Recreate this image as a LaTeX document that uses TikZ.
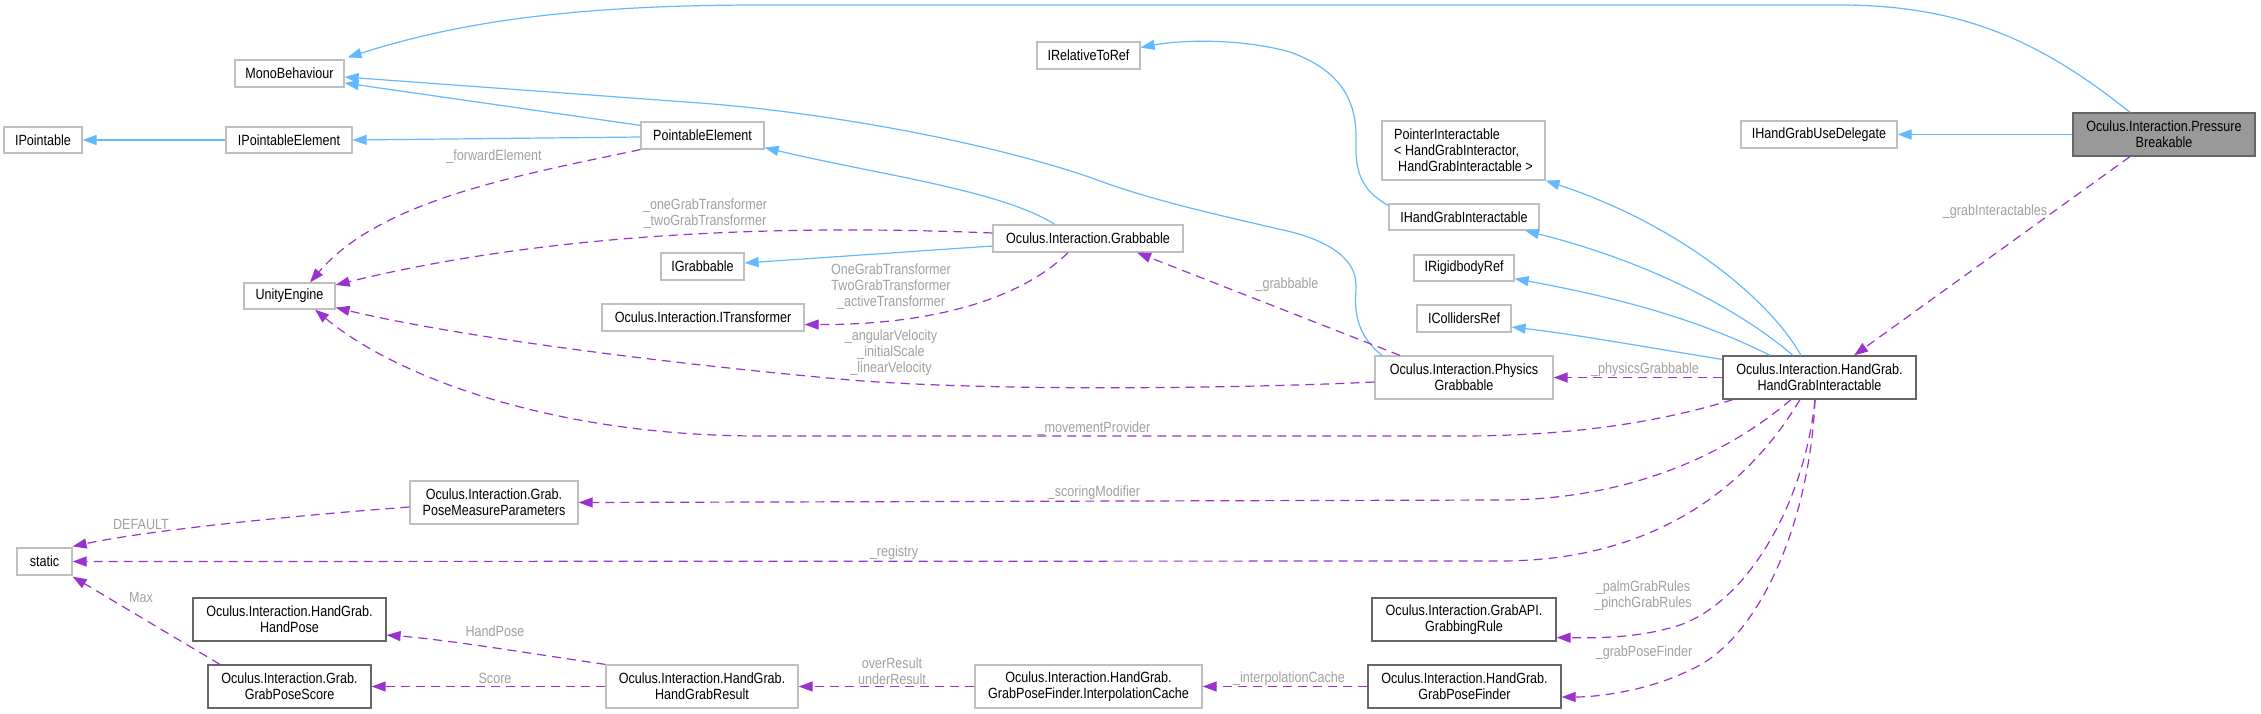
\documentclass[tikz,border=0pt]{standalone}
\usepackage{fontspec}
\setmainfont{Liberation Sans}[FakeStretch=0.85]
\usetikzlibrary{arrows.meta}
\definecolor{inhblue}{HTML}{63B8FF}
\definecolor{usepurple}{HTML}{9A32CD}
\definecolor{lblgray}{HTML}{A0A0A0}
\definecolor{lightborder}{HTML}{BFBFBF}
\definecolor{darkborder}{HTML}{666666}
\definecolor{mainfill}{HTML}{999999}
\newcommand\dxfont{\fontsize{14.8}{16}\selectfont}
\begin{document}
\begin{tikzpicture}[x=1pt,y=-1pt,
  box/.style={draw=lightborder, line width=1.2pt, fill=white, inner sep=0pt, font=\dxfont, text=black, align=center},
  docbox/.style={box, draw=darkborder},
  mainbox/.style={box, draw=darkborder, fill=mainfill},
  lbl/.style={inner sep=0pt, font=\dxfont, text=lblgray, align=center},
  inh/.style={draw=inhblue, line width=1.2pt, -{Triangle[length=14pt,width=10pt]}},
  use/.style={draw=usepurple, line width=1.2pt, dash pattern=on 9pt off 6pt, -{Triangle[length=14pt,width=10pt]}}
]
\useasboundingbox (0,0) rectangle (2261,713);

% nodes
\node[box, minimum width=109pt, minimum height=27pt] (mono) at (289.5,73.5) {MonoBehaviour};
\node[box, minimum width=78pt, minimum height=26pt] (ipt) at (43,140) {IPointable};
\node[box, minimum width=126pt, minimum height=26pt] (ipe) at (289,140) {IPointableElement};
\node[box, minimum width=123pt, minimum height=27pt] (pe) at (702.5,135.5) {PointableElement};
\node[box, minimum width=103pt, minimum height=27pt] (irr) at (1088.5,55.5) {IRelativeToRef};
\node[box, minimum width=91pt, minimum height=26pt] (unity) at (289.5,296) {UnityEngine};
\node[box, minimum width=83pt, minimum height=27pt] (igr) at (702.5,266.5) {IGrabbable};
\node[box, minimum width=202pt, minimum height=27pt] (itr) at (703,317.5) {Oculus.Interaction.ITransformer};
\node[box, minimum width=190pt, minimum height=27pt] (grab) at (1088,238.5) {Oculus.Interaction.Grabbable};
\node[box, minimum width=163pt, minimum height=59pt, align=left] (pint) at (1463.5,150.5) {PointerInteractable\\{<} HandGrabInteractor,\\\hspace*{4pt}HandGrabInteractable {>}};
\node[box, minimum width=150pt, minimum height=26pt] (ihgi) at (1464,217) {IHandGrabInteractable};
\node[box, minimum width=100pt, minimum height=26pt] (irb) at (1464,268) {IRigidbodyRef};
\node[box, minimum width=94pt, minimum height=27pt] (icol) at (1464,318.5) {ICollidersRef};
\node[box, minimum width=178pt, minimum height=43pt] (phys) at (1464,377.5) {Oculus.Interaction.Physics\\Grabbable};
\node[docbox, minimum width=193pt, minimum height=43pt] (hgi) at (1819.5,377.5) {Oculus.Interaction.HandGrab.\\HandGrabInteractable};
\node[box, minimum width=156pt, minimum height=27pt] (ihgud) at (1819,134.5) {IHandGrabUseDelegate};
\node[mainbox, minimum width=182pt, minimum height=43pt] (pb) at (2164,134.5) {Oculus.Interaction.Pressure\\Breakable};
\node[box, minimum width=55pt, minimum height=27pt] (stat) at (44.5,561.5) {static};
\node[box, minimum width=168pt, minimum height=43pt] (pmp) at (494,502.5) {Oculus.Interaction.Grab.\\PoseMeasureParameters};
\node[docbox, minimum width=193pt, minimum height=43pt] (hpose) at (289.5,619.5) {Oculus.Interaction.HandGrab.\\HandPose};
\node[docbox, minimum width=163pt, minimum height=43pt] (gps) at (289.5,686.5) {Oculus.Interaction.Grab.\\GrabPoseScore};
\node[box, minimum width=192pt, minimum height=43pt] (hgr) at (702,686.5) {Oculus.Interaction.HandGrab.\\HandGrabResult};
\node[docbox, minimum width=184pt, minimum height=43pt] (grule) at (1464,619.5) {Oculus.Interaction.GrabAPI.\\GrabbingRule};
\node[box, minimum width=227pt, minimum height=43pt] (icache) at (1088.5,686.5) {Oculus.Interaction.HandGrab.\\GrabPoseFinder.InterpolationCache};
\node[docbox, minimum width=193pt, minimum height=43pt] (gpf) at (1464.5,686.5) {Oculus.Interaction.HandGrab.\\GrabPoseFinder};

% inheritance edges
\draw[inh] ([xshift=-34pt]pb.north) .. controls (2040,40) and (1960,5) .. (1840,5) -- (760,5) .. controls (560,5) and (450,25) .. ([xshift=3pt,yshift=2pt]mono.north east);
\draw[inh] (pb.west) -- (ihgud.east);
\draw[inh] ([yshift=-4pt]pe.north west) -- ([yshift=-9.5pt]mono.east);
\draw[inh] ([yshift=-1.5pt]pe.west) -- (ipe.east);
\draw[inh] (ipe.west) -- (ipt.east);
\draw[inh] ([xshift=-33pt]grab.north) .. controls (1000,190) and (880,175) .. ([yshift=2pt]pe.south east);
\draw[inh] ([yshift=-7.5pt]grab.west) -- ([yshift=3.5pt]igr.east);
\draw[inh] ([xshift=-82pt]phys.north) .. controls (1350,330) and (1356,300) .. (1356,285) .. controls (1356,255) and (1320,238) .. (1283,230) .. controls (1210,213) and (1150,200) .. (1089,177) .. controls (980,140) and (820,112) .. (700,103) -- ([yshift=-3.5pt]mono.east);
\draw[inh] ([yshift=-2pt]ihgi.north west) .. controls (1360,190) and (1355,170) .. (1356,140) .. controls (1357,100) and (1340,70) .. (1290,52) .. controls (1240,38) and (1180,40) .. ([yshift=8pt]irr.east);
\draw[inh] ([xshift=-18.5pt]hgi.north) .. controls (1770,300) and (1680,225) .. (pint.south east);
\draw[inh] ([xshift=-26.5pt]hgi.north) .. controls (1740,310) and (1650,262) .. ([xshift=61pt]ihgi.south);
\draw[inh] ([xshift=-49.5pt]hgi.north) .. controls (1700,320) and (1620,298) .. ([yshift=3pt]irb.south east);
\draw[inh] ([yshift=-4pt]hgi.north west) .. controls (1650,348) and (1580,335) .. ([yshift=-8.5pt]icol.east);

% usage edges
\draw[use] ([xshift=-34pt]pb.south) -- ([xshift=34.5pt]hgi.north);
\draw[use] (pe.south west) .. controls (520,175) and (380,200) .. ([xshift=20.5pt]unity.north);
\draw[use] ([yshift=5.5pt]grab.west) .. controls (800,225) and (560,230) .. ([yshift=11pt]unity.east);
\draw[use] ([xshift=-20pt]grab.south) .. controls (1020,300) and (930,325) .. ([yshift=-7pt]itr.east);
\draw[use] ([yshift=-4.5pt]phys.west) .. controls (1250,388) and (1000,392) .. (850,380) .. controls (650,362) and (450,335) .. ([yshift=2pt]unity.south east);
\draw[use] ([xshift=-64pt]phys.north) -- ([xshift=49pt]grab.south);
\draw[use] (hgi.west) -- (phys.east);
\draw[use] ([xshift=-86.5pt]hgi.south) .. controls (1650,425) and (1560,436) .. (1460,436) -- (760,436) .. controls (560,436) and (400,380) .. ([xshift=25.5pt]unity.south);
\draw[use] ([xshift=-28.5pt]hgi.south) .. controls (1720,460) and (1620,500) .. (1500,500) -- (pmp.east);
\draw[use] ([yshift=-4.5pt]pmp.west) .. controls (300,515) and (150,530) .. ([yshift=1pt]stat.north east);
\draw[use] ([xshift=-19.5pt]hgi.south) .. controls (1740,500) and (1640,561) .. (1500,561) -- (stat.east);
\draw[use] ([xshift=-4.5pt]hgi.south) .. controls (1805,500) and (1750,600) .. (1680,625) .. controls (1640,638) and (1600,638) .. ([yshift=-18pt]grule.east);
\draw[use] ([xshift=-4.5pt]hgi.south) .. controls (1810,520) and (1760,640) .. (1690,670) .. controls (1650,690) and (1600,697) .. ([yshift=-10.5pt]gpf.east);
\draw[use] (gpf.west) -- (icache.east);
\draw[use] (icache.west) -- (hgr.east);
\draw[use] (hgr.north west) .. controls (540,655) and (450,640) .. ([yshift=-15.5pt]hpose.east);
\draw[use] (hgr.west) -- (gps.east);
\draw[use] ([xshift=-69.5pt]gps.north) -- ([yshift=-1pt]stat.south east);

% edge labels
\node[lbl] (l14) at (1995,212) {\_grabInteractables};
\node[lbl] (l15) at (494,157) {\_forwardElement};
\node[lbl] (l16) at (705,214) {\_oneGrabTransformer\\\_twoGrabTransformer};
\node[lbl] (l17) at (891,287) {OneGrabTransformer\\TwoGrabTransformer\\\_activeTransformer};
\node[lbl] (l18) at (891,353) {\_angularVelocity\\\_initialScale\\\_linearVelocity};
\node[lbl] (l19) at (1287,285) {\_grabbable};
\node[lbl] (l20) at (1645,370) {\_physicsGrabbable};
\node[lbl] (l21) at (1094,429) {\_movementProvider};
\node[lbl] (l22) at (1094,493) {\_scoringModifier};
\node[lbl] (l23) at (141,524) {DEFAULT};
\node[lbl] (l24) at (894,553) {\_registry};
\node[lbl] (l25) at (1643,596) {\_palmGrabRules\\\_pinchGrabRules};
\node[lbl] (l26) at (1644,653) {\_grabPoseFinder};
\node[lbl] (l27) at (1289,679) {\_interpolationCache};
\node[lbl] (l28) at (892,671) {overResult\\underResult};
\node[lbl] (l29) at (495,631) {HandPose};
\node[lbl] (l30) at (495,678) {Score};
\node[lbl] (l31) at (141,597) {Max};
\end{tikzpicture}
\end{document}
